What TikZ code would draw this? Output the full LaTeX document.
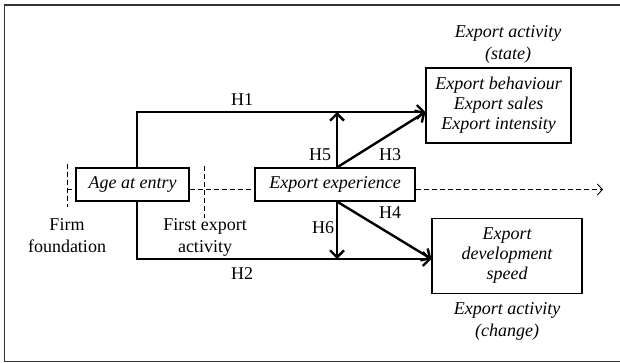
\documentclass[tikz,border=0pt]{standalone}
\usepackage{fontspec}
\setmainfont{Liberation Serif}
\usetikzlibrary{arrows.meta}
\usetikzlibrary{positioning}
\newcommand{\bigfs}{\fontsize{18}{20}\selectfont}
\newcommand{\labfs}{\fontsize{18}{22}\selectfont}
\tikzset{box/.style = {draw, line width=1.1pt, inner sep=0, align=center, font=\bigfs\itshape}}
\tikzset{lab/.style = {align=center, inner sep=0, font=\labfs}}
\tikzset{hlab/.style = {inner sep=0, font=\bigfs}}
\tikzset{hyp/.style = {line width=2.4pt, -{Straight Barb[length=7pt, width=14pt]}}}
\tikzset{tline/.style = {line width=0.9pt, dash pattern=on 5pt off 3pt}}
\tikzset{frame/.style = {draw=black!80, line width=1.6pt}}

\begin{document}
\begin{tikzpicture}[x=1pt, y=-1pt]
    \useasboundingbox (0,0) rectangle (620,363);
    \clip (0,0) rectangle (620,363);
    \draw [frame] (630,5) -- (4.5,5) -- (4.5,361.5) -- (630,361.5);

    % boxes
    \node [box, minimum width=113pt, minimum height=33pt] (age) at (132.5,184.5) {Age at entry};
    \node [box, minimum width=160pt, minimum height=33pt] (exp) at (335,184.5) {Export experience};
    \node [box, minimum width=145pt, minimum height=75pt] (state) at (498.5,105.5)
      {Export behaviour\\Export sales\\Export intensity};
    \node [box, minimum width=150pt, minimum height=75pt] (speed) at (507,256)
      {Export\\development\\speed};

    % labels
    \node [lab, font=\labfs\itshape] (statelab) at (508,44) {Export activity\\(state)};
    \node [lab, font=\labfs\itshape] (changelab) at (507,321) {Export activity\\(change)};
    \node [lab] (found) at (67,236) {Firm\\foundation};
    \node [lab] (first) at (205,237.5) {First export\\activity};

    % time line
    \coordinate (t0) at (67,189.5);
    \coordinate (t1) at (603,189.5);
    \coordinate (f0) at (67,164);
    \coordinate (f1) at (67,207);
    \coordinate (e0) at (204,166);
    \coordinate (e1) at (204,218);
    \draw [tline] (f0) -- (f1);
    \draw [tline] (e0) -- (e1);
    \draw [tline] (t0) -- (age.west |- t0);
    \draw [tline] (age.east |- t0) -- (exp.west |- t0);
    \draw [tline, -{Straight Barb[length=5pt, width=11pt]}] (exp.east |- t0) -- (t1);

    % hypotheses
    \coordinate (up) at ([xshift=2pt]exp.north);
    \coordinate (dn) at ([xshift=2pt]exp.south);
    \coordinate (tipS) at ([yshift=-6.5pt]state.west);
    \coordinate (tipC) at ([yshift=-3pt]speed.west);
    \draw [hyp] ([xshift=4.5pt]age.north) |- (tipS);
    \draw [hyp] ([xshift=4.5pt]age.south) |- (tipC);
    \draw [hyp] (up) -- (up |- tipS);
    \draw [hyp] (up) -- (tipS);
    \draw [hyp] (dn) -- (dn |- tipC);
    \draw [hyp] (dn) -- (tipC);

    \foreach \h/\p in {1/{242,100}, 2/{242,274}, 3/{390,155}, 4/{390,213}, 5/{320,155}, 6/{323,228}} {
      \node [hlab] (h\h) at (\p) {H\h};
    }
\end{tikzpicture}
\end{document}
